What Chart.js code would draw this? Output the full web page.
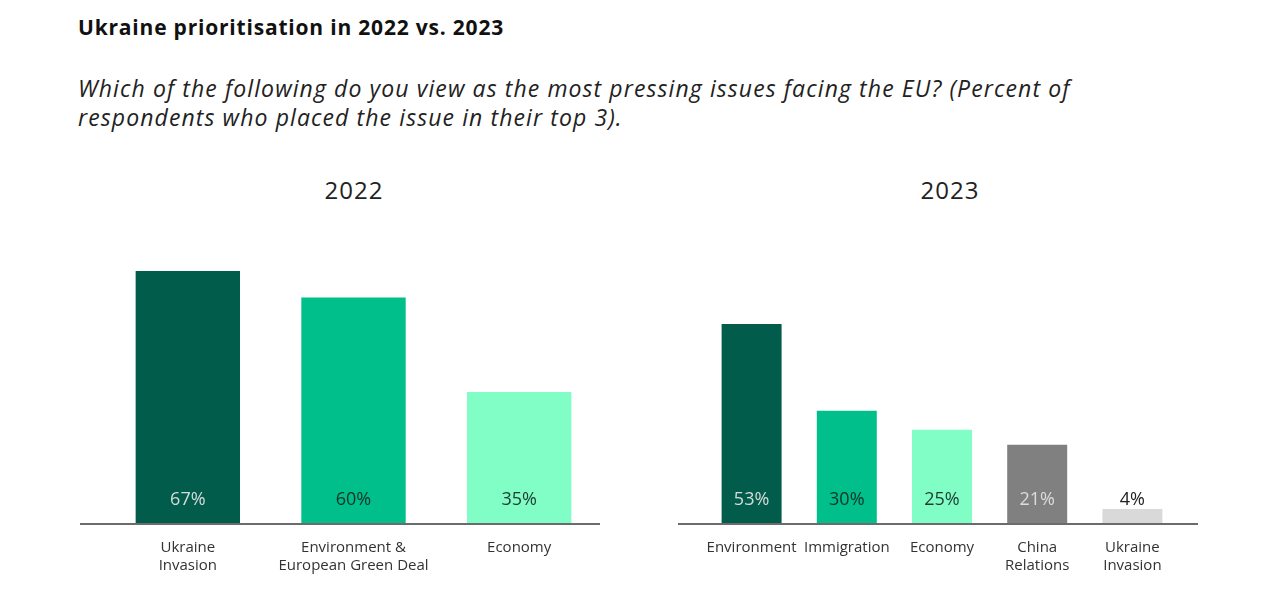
<!DOCTYPE html>
<html>
<head>
<meta charset="utf-8">
<script src="https://cdn.jsdelivr.net/npm/chart.js@4.4.1/dist/chart.umd.min.js"></script>
<style>
  body { margin: 0; background: #fff; font-family: "Open Sans", sans-serif; color: #111; }
  #title { position: absolute; left: 78px; top: 13px; font-size: 21px; font-weight: bold; letter-spacing: 0.8px; }
  #subtitle { position: absolute; left: 78px; top: 74px; font-size: 23px; font-style: italic; line-height: 29px; letter-spacing: 1.1px; color: #222; }
  .year { position: absolute; top: 173px; width: 200px; text-align: center; font-size: 24px; letter-spacing: 1px; color: #222; }
  canvas { position: absolute; }
</style>
</head>
<body>
<div id="title">Ukraine prioritisation in 2022 vs. 2023</div>
<div id="subtitle">Which of the following do you view as the most pressing issues facing the EU? (Percent of<br>respondents who placed the issue in their top 3).</div>
<div class="year" style="left:254px">2022</div>
<div class="year" style="left:850px">2023</div>
<canvas id="ch2022" width="560" height="420" style="left:60px; top:170px"></canvas>
<canvas id="ch2023" width="560" height="420" style="left:660px; top:170px"></canvas>
<script>
// 2022 panel
var labels2022 = [['Ukraine', 'Invasion'], ['Environment &', 'European Green Deal'], 'Economy'];
var values2022 = [67, 60, 35];
var colors2022 = ['#015c4c', '#00bf8a', '#80fec6'];
var text2022 = ['#d4dcd9', '#0f3329', '#1d3b33'];

// 2023 panel
var labels2023 = ['Environment', 'Immigration', 'Economy', ['China', 'Relations'], ['Ukraine', 'Invasion']];
var values2023 = [53, 30, 25, 21, 4];
var colors2023 = ['#015c4c', '#00bf8a', '#80fec6', '#808080', '#d9d9d9'];
var text2023 = ['#d4dcd9', '#0f3329', '#1d3b33', '#dcdcdc', '#222222'];

var fontFam = '"Open Sans", sans-serif';

// percent labels sitting near the base of each bar, plus the baseline
var barText = {
    id: 'barText',
    afterDatasetsDraw: function(chart, args, opts) {
        var ctx = chart.ctx;
        var y0 = chart.scales.y.getPixelForValue(0);
        ctx.save();
        ctx.strokeStyle = '#6b6b6b';
        ctx.lineWidth = 2;
        ctx.beginPath();
        ctx.moveTo(chart.chartArea.left - opts.extLeft, y0);
        ctx.lineTo(chart.chartArea.right + opts.extRight, y0);
        ctx.stroke();
        ctx.font = '18px ' + fontFam;
        ctx.textAlign = 'center';
        ctx.textBaseline = 'middle';
        chart.getDatasetMeta(0).data.forEach(function(bar, i) {
            ctx.fillStyle = opts.colors[i];
            ctx.fillText(chart.data.datasets[0].data[i] + '%', bar.x, y0 - 24);
        });
        ctx.restore();
    }
};

function makeChart(id, labels, values, colors, textColors, pad, ext) {
    return new Chart(document.getElementById(id), {
        type: 'bar',
        data: {
            labels: labels,
            datasets: [{
                data: values,
                backgroundColor: colors,
                borderWidth: 0,
                categoryPercentage: 1,
                barPercentage: 0.63
            }]
        },
        options: {
            responsive: false,
            animation: false,
            layout: { padding: { left: pad[0], right: pad[1], top: 52, bottom: 0 } },
            plugins: {
                legend: { display: false },
                tooltip: { enabled: false },
                barText: { colors: textColors, extLeft: ext[0], extRight: ext[1] }
            },
            scales: {
                x: {
                    grid: { display: false, drawTicks: false, tickLength: 0 },
                    border: { display: false },
                    ticks: { color: '#333', padding: 15, maxRotation: 0, autoSkip: false,
                             font: { family: fontFam, size: 15, lineHeight: 1.2 } }
                },
                y: {
                    display: false,
                    min: 0,
                    max: 80
                }
            }
        },
        plugins: [barText]
    });
}

makeChart('ch2022', labels2022, values2022, colors2022, text2022, [45, 18], [25, -2]);
makeChart('ch2023', labels2023, values2023, colors2023, text2023, [44, 40], [26, 18]);
</script>
</body>
</html>
